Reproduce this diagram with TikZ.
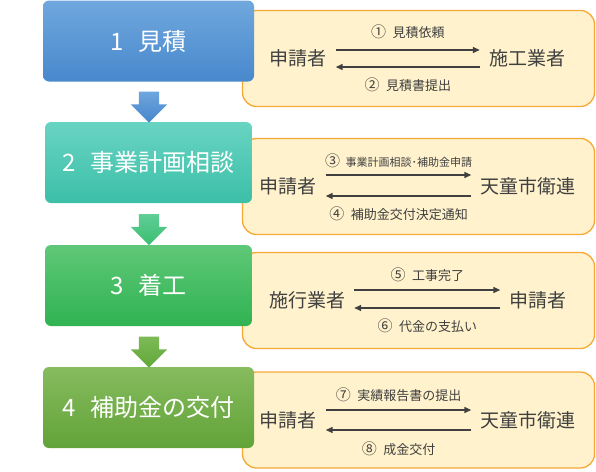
\documentclass[tikz,border=0pt]{standalone}
\usepackage{fontspec}
\setmainfont{Noto Sans CJK JP}
\usepackage{tikz}
\usetikzlibrary{arrows.meta, positioning, shapes.arrows, calc}

\definecolor{memofill}{HTML}{FFF2CC}
\definecolor{memoline}{HTML}{F7A935}
\definecolor{textgray}{HTML}{404040}
\newcommand{\numc}[1]{{\fontsize{15}{15}\selectfont #1}\enspace}

\begin{document}
\begin{tikzpicture}[
    x=1pt, y=-1pt,
    stepbox/.style={rectangle, rounded corners=6pt, minimum width=211pt, minimum height=81pt, align=center, text=white, font=\fontsize{24}{28}\selectfont},
    memobox/.style={draw=memoline, line width=1.3pt, fill=memofill, rounded corners=14pt, rectangle, minimum width=352pt, minimum height=96pt},
    who/.style={inner xsep=9pt, inner ysep=0pt, text=textgray, font=\fontsize{19}{22}\selectfont},
    msg/.style={text=textgray, inner sep=9pt, font=\fontsize{13}{15}\selectfont},
    flow/.style={single arrow, single arrow head extend=8pt, inner sep=10pt, minimum height=31pt, shape border rotate=270},
    arr/.style={-{Triangle[length=7pt,width=6pt]}, line width=1.5pt, draw=textgray}
]
\useasboundingbox (0,0) rectangle (596,471);

% memo boxes behind
\node[memobox] (m1) at (418.5,58.5) {};
\node[memobox] (m2) at (418.5,186.5) {};
\node[memobox] (m3) at (418.5,300.5) {};
\node[memobox] (m4) at (418.5,420) {};

% steps
\node[stepbox, top color={rgb,255:red,112;green,168;blue,222}, bottom color={rgb,255:red,72;green,136;blue,204}] (s1) at (148.5,41) {1\hspace{0.6em}見積};
\node[stepbox, top color={rgb,255:red,104;green,212;blue,194}, bottom color={rgb,255:red,60;green,191;blue,168}, minimum width=207pt] (s2) at (148.5,162.5) {2\hspace{0.6em}事業計画相談};
\node[stepbox, top color={rgb,255:red,95;green,200;blue,120}, bottom color={rgb,255:red,48;green,179;blue,82}, minimum width=207pt] (s3) at (148.5,285.5) {3\hspace{0.6em}着工};
\node[stepbox, top color={rgb,255:red,134;green,187;blue,94}, bottom color={rgb,255:red,98;green,163;blue,56}] (s4) at (148.5,407.5) {4\hspace{0.6em}補助金の交付};

\node[flow, top color={rgb,255:red,110;green,166;blue,222}, bottom color={rgb,255:red,70;green,134;blue,204}] (f1) at (149,102) {};
\node[flow, top color={rgb,255:red,96;green,206;blue,150}, bottom color={rgb,255:red,58;green,190;blue,112}] (f2) at (149,224.5) {};
\node[flow, top color={rgb,255:red,124;green,186;blue,86}, bottom color={rgb,255:red,98;green,168;blue,58}] (f3) at (149,347) {};

% 1 見積
\node[who] (a1) at (298,58) {申請者};
\node[who] (b1) at (527,58) {施工業者};
\draw[arr] ([yshift=8pt]a1.east) -- node[msg, above, inner sep=10pt] {\numc{①}見積依頼} ([yshift=8pt]b1.west);
\draw[arr] ([yshift=-9pt]b1.west) -- node[msg, below, inner sep=10pt] {\numc{②}見積書提出} ([yshift=-9pt]a1.east);

% 2 事業計画相談
\node[who] (a2) at (288,186) {申請者};
\node[who] (b2) at (528,186) {天童市衛連};
\draw[arr] ([yshift=11pt]a2.east) -- node[msg, above, inner sep=6pt, font=\fontsize{11}{13}\selectfont] {\numc{③}事業計画相談･補助金申請} ([yshift=11pt]b2.west);
\draw[arr] ([yshift=-10pt]b2.west) -- node[msg, below, inner sep=10pt] {\numc{④}補助金交付決定通知} ([yshift=-10pt]a2.east);

% 3 着工
\node[who] (a3) at (307,300) {施行業者};
\node[who] (b3) at (538,300) {申請者};
\draw[arr] ([yshift=10pt]a3.east) -- node[msg, above, inner sep=7pt] {\numc{⑤}工事完了} ([yshift=10pt]b3.west);
\draw[arr] ([yshift=-8pt]b3.west) -- node[msg, below, inner sep=10pt] {\numc{⑥}代金の支払い} ([yshift=-8pt]a3.east);

% 4 補助金の交付
\node[who] (a4) at (288,420) {申請者};
\node[who] (b4) at (528,420) {天童市衛連};
\draw[arr] ([yshift=10pt]a4.east) -- node[msg, above, inner sep=7pt] {\numc{⑦}実績報告書の提出} ([yshift=10pt]b4.west);
\draw[arr] ([yshift=-10pt]b4.west) -- node[msg, below, inner sep=11pt] {\numc{⑧}成金交付} ([yshift=-10pt]a4.east);

\end{tikzpicture}
\end{document}
